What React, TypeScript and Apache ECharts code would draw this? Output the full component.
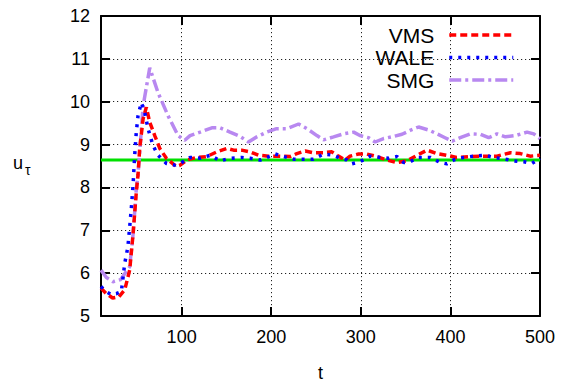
import React, { useEffect, useRef } from "react";
import * as echarts from "echarts";

const xTicks = [100, 200, 300, 400, 500];

const tVMS = [10, 16, 23, 30, 36.5, 42, 45.8, 49.5, 51.3, 53.2, 57, 60.6, 64.4, 70, 75.6, 83, 94, 98.3, 105.7, 117, 128, 139.3, 150.4, 158, 167, 176.5, 186, 197, 210, 221, 228.6, 238, 247, 258.4, 267.8, 275, 282.6, 288, 297.5, 306.5, 318, 329, 340.4, 351.6, 362.7, 374, 385, 396, 407, 422.3, 437, 452, 467, 478, 489, 500];
const vVMS = [5.65, 5.52, 5.42, 5.45, 5.61, 6.07, 6.91, 7.91, 8.29, 8.91, 9.6, 9.87, 9.52, 9.21, 8.91, 8.68, 8.49, 8.52, 8.64, 8.7, 8.72, 8.83, 8.91, 8.87, 8.87, 8.83, 8.75, 8.73, 8.73, 8.72, 8.79, 8.85, 8.81, 8.81, 8.83, 8.73, 8.64, 8.73, 8.78, 8.78, 8.72, 8.64, 8.58, 8.62, 8.75, 8.87, 8.79, 8.75, 8.7, 8.72, 8.73, 8.73, 8.81, 8.79, 8.73, 8.75];

const tWALE = [10, 15, 21.5, 27, 32.7, 36.5, 40, 42, 43.9, 45.8, 47.6, 49.4, 51.3, 55, 58.8, 62.5, 68, 73.7, 83, 92.3, 98.3, 109.4, 120.6, 131.8, 143, 154, 167, 176.5, 187.7, 198.8, 204.4, 213.7, 224.9, 236, 247, 258.4, 269.6, 277, 284.5, 290, 299, 310.5, 321.7, 331, 340.4, 348, 355, 364.5, 377.6, 388.8, 396, 403.6, 414.8, 426, 439, 448.3, 461.4, 470.7, 481.9, 491, 500];
const vWALE = [5.69, 5.58, 5.5, 5.52, 5.57, 6.23, 6.61, 7.07, 7.53, 8.06, 8.75, 9.29, 9.67, 9.98, 9.75, 9.37, 8.98, 8.75, 8.56, 8.52, 8.56, 8.7, 8.68, 8.75, 8.62, 8.68, 8.7, 8.68, 8.64, 8.73, 8.78, 8.72, 8.66, 8.66, 8.66, 8.78, 8.75, 8.68, 8.64, 8.55, 8.6, 8.73, 8.7, 8.68, 8.72, 8.58, 8.6, 8.7, 8.7, 8.58, 8.55, 8.64, 8.7, 8.73, 8.75, 8.7, 8.66, 8.62, 8.6, 8.56, 8.68];

const tSMG = [10, 16, 23.4, 32, 42, 45.8, 49.5, 51.3, 57, 64.4, 73.7, 84.9, 96, 103.5, 109.4, 120.6, 133.7, 143, 154, 165.3, 174.6, 184, 195, 206, 217.5, 230.5, 240, 251, 258.4, 269.6, 280.7, 292, 299, 308.7, 316, 325.4, 336.6, 346, 355, 364.5, 375.7, 385, 394, 402, 411, 422.3, 433.5, 442.7, 452, 461.4, 472.6, 485.6, 493, 500];
const vSMG = [6.07, 5.9, 5.8, 5.85, 6.15, 6.91, 7.99, 8.29, 9.9, 10.79, 10.21, 9.67, 9.21, 9.1, 9.21, 9.29, 9.39, 9.39, 9.29, 9.19, 9.06, 9.18, 9.29, 9.37, 9.37, 9.48, 9.37, 9.21, 9.11, 9.18, 9.25, 9.29, 9.21, 9.16, 9.06, 9.14, 9.19, 9.24, 9.33, 9.41, 9.34, 9.25, 9.16, 9.08, 9.16, 9.25, 9.24, 9.16, 9.25, 9.18, 9.21, 9.29, 9.25, 9.14];

const tRef = [10, 500];
const vRef = [8.64, 8.64];

const zip = (t: number[], v: number[]) => t.map((x, i) => [x, v[i]]);

export default function App() {
  const ref = useRef<HTMLDivElement>(null);
  useEffect(() => {
    if (!ref.current) return;
    const chart = echarts.init(ref.current, null, { renderer: "svg" });
    const font = "Liberation Sans, Arial, sans-serif";
    const splitLine = { show: true, lineStyle: { color: "#222", width: 1, type: [1.2, 2.8] as any } };
    const axisLine = { show: true, onZero: false, lineStyle: { color: "#000", width: 2 } };
    const tick = { show: true, inside: true, length: 9, lineStyle: { color: "#000", width: 2 } };
    chart.setOption({
      animation: false,
      grid: { left: 101, right: 22, top: 16, bottom: 67, containLabel: false },
      legend: {
        orient: "vertical",
        align: "right",
        right: 42,
        top: 19,
        itemWidth: 64,
        itemHeight: 14,
        itemGap: 0.5,
        data: ["VMS", "WALE", "SMG"],
        itemStyle: { opacity: 0 },
        lineStyle: { width: 3.5 },
        textStyle: { fontFamily: font, fontSize: 21, lineHeight: 22, color: "#000", padding: [0, 10, 0, 0] },
      },
      xAxis: [
        {
          type: "value", min: 10, max: 500,
          axisLine, splitLine,
          axisTick: { ...tick, customValues: xTicks },
          axisLabel: { customValues: xTicks, fontFamily: font, fontSize: 18, color: "#000", margin: 12 },
          name: "t", nameLocation: "middle", nameGap: 48,
          nameTextStyle: { fontFamily: font, fontSize: 18, color: "#000" },
        },
        {
          type: "value", min: 10, max: 500, position: "top",
          axisLine, splitLine: { show: false },
          axisTick: { ...tick, customValues: xTicks },
          axisLabel: { show: false },
        },
      ],
      yAxis: [
        {
          type: "value", min: 5, max: 12, interval: 1,
          axisLine, splitLine, axisTick: tick,
          axisLabel: { fontFamily: font, fontSize: 18, color: "#000", margin: 11 },
        },
        {
          type: "value", min: 5, max: 12, interval: 1, position: "right",
          axisLine, splitLine: { show: false }, axisTick: tick,
          axisLabel: { show: false },
        },
      ],
      graphic: [
        { type: "text", left: 13, top: 154, style: { text: "u", font: `18px ${font}`, fill: "#000" } },
        { type: "text", left: 25, top: 163, style: { text: "τ", font: `14px ${font}`, fill: "#000" } },
      ],
      series: [
        {
          name: "ref", type: "line", data: zip(tRef, vRef), symbol: "none", z: 1,
          lineStyle: { color: "#00e000", width: 3 }, silent: true,
        },
        {
          name: "VMS", type: "line", data: zip(tVMS, vVMS), symbol: "none", z: 3,
          itemStyle: { color: "#ff0000" },
          lineStyle: { color: "#ff0000", width: 3.5, type: [7, 4] as any },
        },
        {
          name: "WALE", type: "line", data: zip(tWALE, vWALE), symbol: "none", z: 4,
          itemStyle: { color: "#0000ff" },
          lineStyle: { color: "#0000ff", width: 3.5, type: [3, 6] as any },
        },
        {
          name: "SMG", type: "line", data: zip(tSMG, vSMG), symbol: "none", z: 2,
          itemStyle: { color: "#b888f0" },
          lineStyle: { color: "#b888f0", width: 3.5, type: [12, 4, 3, 4] as any },
        },
      ],
    });
    return () => chart.dispose();
  }, []);
  return <div ref={ref} style={{ width: 562, height: 387, position: "absolute", left: 0, top: 0 }} />;
}
